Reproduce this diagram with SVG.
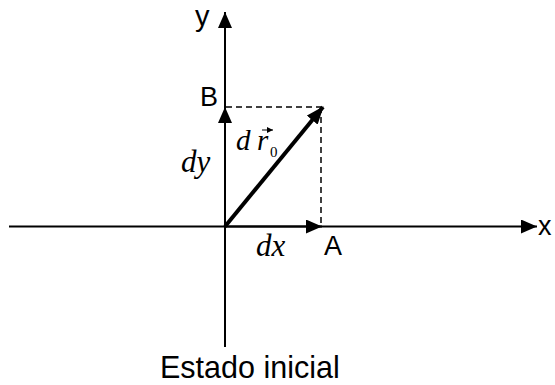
<svg xmlns="http://www.w3.org/2000/svg" width="555" height="385" viewBox="0 0 555 385">
<defs>
<marker id="big" viewBox="0 0 16 14" refX="16" refY="7" markerWidth="16" markerHeight="14" orient="auto" markerUnits="userSpaceOnUse">
<path d="M0,0 L16,7 L0,14 Z" fill="#000"/>
</marker>
<marker id="diag" viewBox="0 0 18 14" refX="17" refY="7" markerWidth="18" markerHeight="14" orient="auto" markerUnits="userSpaceOnUse">
<path d="M0,0 L18,7 L0,14 Z" fill="#000"/>
</marker>
<marker id="vec" viewBox="0 0 6 6" refX="6" refY="3" markerWidth="6" markerHeight="6" orient="auto" markerUnits="userSpaceOnUse">
<path d="M0,0 L6,3 L0,6 Z" fill="#000"/>
</marker>
</defs>
<style>
.ax{stroke:#000;stroke-width:2;fill:none}
.dash{stroke:#000;stroke-width:1.5;stroke-dasharray:6,4;fill:none}
.sans{font-family:"Liberation Sans",Arial,sans-serif;fill:#000}
.it{font-family:"Liberation Serif","Times New Roman",serif;font-style:italic;fill:#000}
.rm{font-family:"Liberation Serif","Times New Roman",serif;fill:#000}
</style>
<g id="connectors">
<line class="ax" x1="9" y1="226.5" x2="537" y2="226.5" marker-end="url(#big)"/>
<line class="ax" x1="225" y1="347" x2="225" y2="12" marker-end="url(#big)"/>
<line class="ax" x1="225" y1="226.5" x2="322" y2="226.5" marker-end="url(#big)"/>
<line class="ax" x1="225" y1="226.5" x2="225" y2="107" marker-end="url(#big)"/>
<line class="dash" x1="226" y1="107" x2="321" y2="107"/>
<line class="dash" x1="321" y1="107" x2="321" y2="226"/>
<line x1="225" y1="226.5" x2="323" y2="107" stroke="#000" stroke-width="4" marker-end="url(#diag)"/>
</g>
<g id="label-y"><text class="sans" x="195" y="26" font-size="29">y</text></g>
<g id="label-x"><text class="sans" x="538" y="235" font-size="27">x</text></g>
<g id="label-B"><text class="sans" x="200" y="106" font-size="27">B</text></g>
<g id="label-A"><text class="sans" x="324" y="255" font-size="27">A</text></g>
<g id="label-dy"><text class="it" x="181" y="172" font-size="31">dy</text></g>
<g id="label-dx"><text class="it" x="256" y="256" font-size="31">dx</text></g>
<g id="label-dr0"><text class="it" x="236" y="150" font-size="29">d</text><text class="it" x="257" y="150" font-size="29">r</text><line x1="262" y1="130" x2="273" y2="130" stroke="#000" stroke-width="1" marker-end="url(#vec)"/><text class="rm" x="270" y="157" font-size="15">0</text></g>
<g id="caption"><text class="sans" x="160" y="378" font-size="30.5">Estado inicial</text></g>
</svg>
